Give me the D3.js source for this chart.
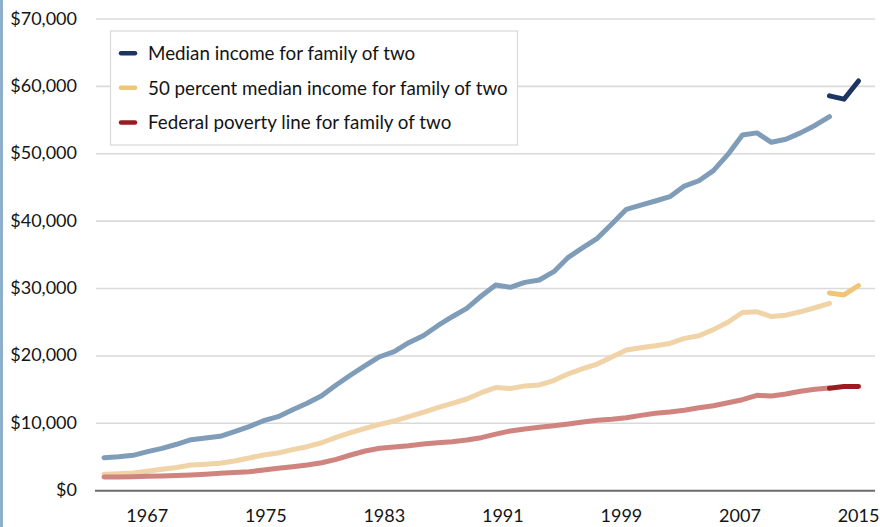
<!DOCTYPE html>
<html>
<head>
<meta charset="utf-8">
<script src="https://cdn.jsdelivr.net/npm/d3@7"></script>
<style>
  html, body { margin: 0; padding: 0; background: #fff; }
  svg { display: block; }
</style>
</head>
<body>
<svg id="chart" width="880" height="527"></svg>
<script>
// ---------- DATA ----------
const yearsOld = d3.range(1963, 2014); // 1963..2013 (old CPS series)
const yearsNew = [2013, 2014, 2015];     // redesigned series

const medianOld = [4900, 5050, 5250, 5790, 6290, 6890, 7570, 7820, 8070, 8760,
  9500, 10390, 10980, 12020, 12970, 14100, 15690, 17170, 18550, 19880,
  20630, 21960, 23000, 24480, 25820, 27060, 28890, 30520, 30180, 30920,
  31270, 32500, 34630, 36060, 37450, 39580, 41760, 42390, 42990, 43630,
  45210, 46000, 47500, 49900, 52800, 53100, 51700, 52150, 53100, 54200, 55500];
const halfOld = [2430, 2530, 2630, 2900, 3170, 3450, 3810, 3930, 4060, 4400,
  4850, 5300, 5590, 6090, 6530, 7120, 7920, 8610, 9250, 9850,
  10340, 10980, 11630, 12320, 12970, 13610, 14540, 15300, 15150, 15550,
  15690, 16350, 17350, 18100, 18800, 19850, 20880, 21200, 21500, 21850,
  22600, 23000, 23900, 25000, 26450, 26550, 25850, 26050, 26550, 27150, 27800];
const povertyOld = [2030, 2050, 2080, 2130, 2180, 2250, 2330, 2450, 2580, 2700,
  2820, 3070, 3320, 3560, 3810, 4150, 4650, 5300, 5890, 6290,
  6480, 6680, 6930, 7120, 7270, 7520, 7870, 8400, 8860, 9160,
  9400, 9650, 9900, 10190, 10440, 10590, 10830, 11180, 11480, 11680,
  11930, 12300, 12610, 13060, 13500, 14150, 14050, 14350, 14750, 15050, 15250];

const medianNew  = [58600, 58100, 60800];
const halfNew    = [29350, 29050, 30450];
const povertyNew = [15200, 15450, 15480];

const seriesNames = [
  "Median income for family of two",
  "50 percent median income for family of two",
  "Federal poverty line for family of two"
];
const xTickLabels = ["1967", "1975", "1983", "1991", "1999", "2007", "2015"];
const yTickValues = [0, 10000, 20000, 30000, 40000, 50000, 60000, 70000];

// ---------- STYLE ----------
const darkColors  = ["#1d3561", "#f1c577", "#9c1b20"];
const fadedColors = ["#7f9cb8", "#f0d3a7", "#d0847f"];
const FONT = "Lato, 'Open Sans', sans-serif";

// ---------- LAYOUT ----------
const svg = d3.select("#chart");
const W = 880, H = 527;
const plotLeft = 95, plotRight = 875, plotTop = 19, plotBottom = 490.7;
const firstX = 104, lastX = 858.5;

svg.append("rect").attr("x", 0).attr("y", 0).attr("width", 3).attr("height", H)
  .attr("fill", "#8fb0cd");

const x = d3.scaleLinear().domain([1963, 2015]).range([firstX, lastX]);
const y = d3.scaleLinear().domain([0, 70000]).range([plotBottom, plotTop]);
const xLab = d3.scalePoint().domain(xTickLabels).range([146.7, 858]);

// gridlines
svg.append("g").selectAll("line")
  .data(yTickValues.filter(d => d > 0))
  .join("line")
  .attr("x1", plotLeft + 1).attr("x2", plotRight)
  .attr("y1", d => y(d)).attr("y2", d => y(d))
  .attr("stroke", "#dadada").attr("stroke-width", 1.6);

// baseline
svg.append("line")
  .attr("x1", plotLeft).attr("x2", plotRight)
  .attr("y1", y(0)).attr("y2", y(0))
  .attr("stroke", "#6b6b6b").attr("stroke-width", 2);

// y axis
const yAxis = d3.axisLeft(y).tickValues(yTickValues).tickSize(0).tickPadding(18)
  .tickFormat(d => "$" + d3.format(",")(d));
const gy = svg.append("g").attr("transform", `translate(${plotLeft},0)`).call(yAxis);
gy.select(".domain").remove();
gy.selectAll("text").attr("font-family", FONT).attr("font-size", 18)
  .attr("fill", "#141414").attr("dy", "0.28em");

// x axis labels
const xAxis = d3.axisBottom(xLab).tickSize(0).tickPadding(0);
const gx = svg.append("g").attr("transform", `translate(0,${plotBottom})`).call(xAxis);
gx.select(".domain").remove();
gx.selectAll("text").attr("font-family", FONT).attr("font-size", 18)
  .attr("fill", "#141414").attr("dy", null).attr("y", 31);

// lines
const line = d3.line().x(d => x(d[0])).y(d => y(d[1]));
const oldSeries = [medianOld, halfOld, povertyOld];
const newSeries = [medianNew, halfNew, povertyNew];

oldSeries.forEach((vals, i) => {
  svg.append("path")
    .datum(yearsOld.map((yr, j) => [yr, vals[j]]))
    .attr("d", line)
    .attr("fill", "none")
    .attr("stroke", fadedColors[i])
    .attr("stroke-width", 5)
    .attr("stroke-linecap", "round")
    .attr("stroke-linejoin", "round");
});
newSeries.forEach((vals, i) => {
  svg.append("path")
    .datum(yearsNew.map((yr, j) => [yr, vals[j]]))
    .attr("d", line)
    .attr("fill", "none")
    .attr("stroke", darkColors[i])
    .attr("stroke-width", 5)
    .attr("stroke-linecap", "round")
    .attr("stroke-linejoin", "round");
});

// legend
const lg = svg.append("g");
lg.append("rect").attr("x", 110.5).attr("y", 31).attr("width", 407).attr("height", 114)
  .attr("fill", "#fff").attr("stroke", "#d9d9d9").attr("stroke-width", 1.2);
const rowY = [53.3, 87.8, 122.5];
seriesNames.forEach((name, i) => {
  lg.append("line").attr("x1", 121).attr("x2", 135)
    .attr("y1", rowY[i]).attr("y2", rowY[i])
    .attr("stroke", darkColors[i]).attr("stroke-width", 4.5)
    .attr("stroke-linecap", "round");
  lg.append("text").attr("x", 148).attr("y", rowY[i]).attr("dy", "0.36em")
    .attr("font-family", FONT).attr("font-size", 18.8)
    .attr("fill", "#141414").text(name);
});
</script>
</body>
</html>
